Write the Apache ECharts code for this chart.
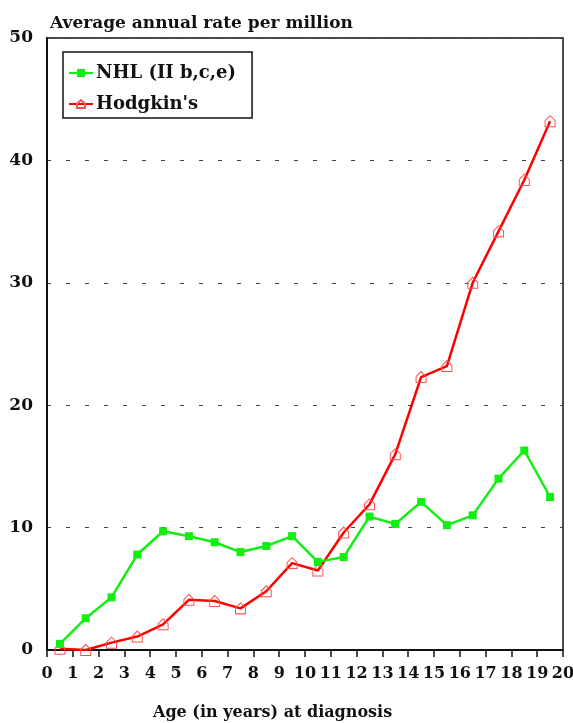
<!DOCTYPE html>
<html>
<head>
<meta charset="utf-8">
<script src="https://cdn.jsdelivr.net/npm/echarts@6/dist/echarts.min.js"></script>
<style>
  html, body { margin: 0; padding: 0; background: #fff; }
  #chart { width: 573px; height: 723px; }
</style>
</head>
<body>
<div id="chart"></div>
<script>
// ---------------------------------------------------
// Data
// ---------------------------------------------------
const ages = [0.5, 1.5, 2.5, 3.5, 4.5, 5.5, 6.5, 7.5, 8.5, 9.5,
              10.5, 11.5, 12.5, 13.5, 14.5, 15.5, 16.5, 17.5, 18.5, 19.5];

const nhlRates = [0.5, 2.6, 4.3, 7.8, 9.7, 9.3, 8.8, 8.0, 8.5, 9.3,
                  7.2, 7.6, 10.9, 10.3, 12.1, 10.2, 11.0, 14.0, 16.3, 12.5];

const hodgkinRates = [0.1, 0.0, 0.6, 1.1, 2.1, 4.1, 4.0, 3.4, 4.8, 7.1,
                      6.5, 9.6, 11.9, 16.0, 22.3, 23.2, 30.0, 34.2, 38.4, 43.2];

const seriesNames = ["NHL (II b,c,e)", "Hodgkin's"];

// ---------------------------------------------------
// Helpers
// ---------------------------------------------------
const FONT = "DejaVu Serif";
const pair = vals => ages.map((a, i) => [a, vals[i]]);
const houseSymbol = "path://M0,5 L5,0 L10,5 L10,11 L0,11 Z";

// ---------------------------------------------------
// Chart
// ---------------------------------------------------
const chart = echarts.init(document.getElementById("chart"));

chart.setOption({
  animation: false,
  backgroundColor: "#fff",
  title: [
    {
      text: "Average annual rate per million",
      left: 45,
      top: 10,
      textStyle: { fontFamily: FONT, fontWeight: "bold", fontSize: 17, color: "#111" }
    },
    {
      // x axis name, sits left of the plot centre like in the reference
      text: "Age (in years) at diagnosis",
      left: 153,
      top: 705,
      padding: 0,
      textStyle: { fontFamily: FONT, fontWeight: "bold", fontSize: 16, color: "#111" }
    }
  ],
  grid: {
    left: 47,
    right: 10,
    top: 38,
    bottom: 73,
    outerBoundsMode: "none",
    containLabel: false,
    show: true,
    borderColor: "#111",
    borderWidth: 1.5
  },
  legend: {
    orient: "vertical",
    left: 63,
    top: 52,
    padding: [12, 16, 5, 5],
    itemGap: 13,
    itemWidth: 24,
    itemHeight: 10,
    borderColor: "#111",
    borderWidth: 1.5,
    backgroundColor: "#fff",
    textStyle: { fontFamily: FONT, fontWeight: "bold", fontSize: 18, color: "#111", padding: [0, 0, 0, -2] },
    data: seriesNames
  },
  xAxis: {
    type: "value",
    min: 0,
    max: 20,
    interval: 1,
    axisLine: { lineStyle: { color: "#111", width: 2 } },
    axisTick: { inside: false, length: 7, lineStyle: { color: "#111", width: 1.5 } },
    axisLabel: { margin: 16, fontFamily: FONT, fontWeight: "bold", fontSize: 16, color: "#111" },
    splitLine: { show: false }
  },
  yAxis: {
    type: "value",
    min: 0,
    max: 50,
    interval: 10,
    axisLine: { show: true, lineStyle: { color: "#111", width: 2 } },
    axisTick: { show: false },
    axisLabel: { margin: 14, fontFamily: FONT, fontWeight: "bold", fontSize: 17, color: "#111" },
    splitLine: { show: true, lineStyle: { color: "#444", type: [4, 15], width: 1.2 } }
  },
  series: [
    {
      name: seriesNames[0],
      type: "line",
      data: pair(nhlRates),
      symbol: "rect",
      symbolSize: 8,
      lineStyle: { color: "#11ee11", width: 2.5 },
      itemStyle: { color: "#11ee11" },
      z: 3
    },
    {
      name: seriesNames[1],
      type: "line",
      data: pair(hodgkinRates),
      symbol: houseSymbol,
      symbolSize: [10, 11],
      lineStyle: { color: "#ff0000", width: 2.5 },
      itemStyle: { color: "rgba(255,255,255,0)", borderColor: "#ff5050", borderWidth: 1 },
      z: 2
    }
  ]
});

window.addEventListener("resize", chart.resize);
</script>
</body>
</html>
